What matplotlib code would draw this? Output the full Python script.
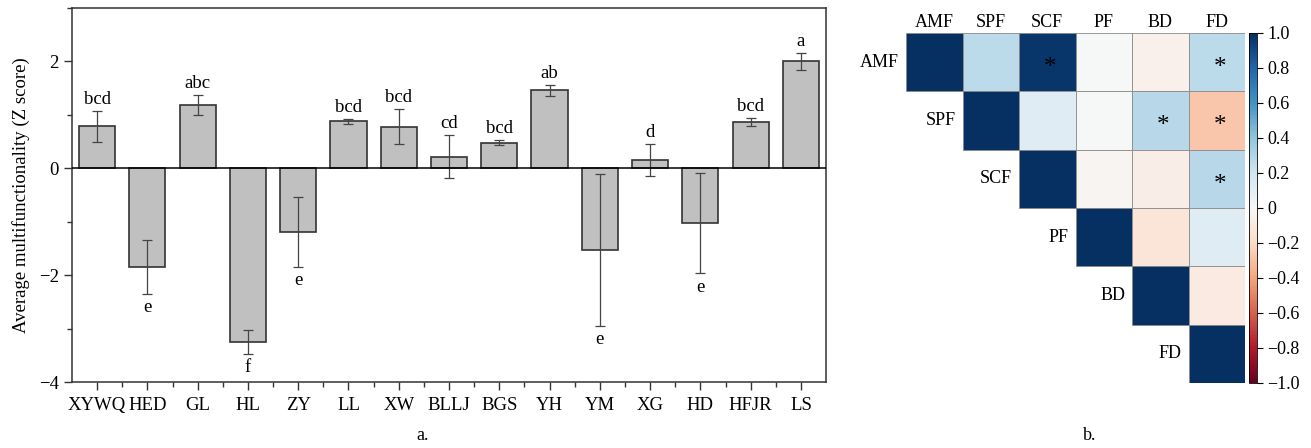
import numpy as np
import matplotlib
matplotlib.use("Agg")
import matplotlib.pyplot as plt
from matplotlib.colors import Normalize
from matplotlib.cm import ScalarMappable
from matplotlib.patches import Rectangle
from matplotlib.ticker import MultipleLocator, FixedLocator

plt.rcParams['font.family'] = ['Liberation Serif', 'DejaVu Serif']
plt.rcParams['axes.unicode_minus'] = True

# panel a: average multifunctionality per site
sites = ['XYWQ', 'HED', 'GL', 'HL', 'ZY', 'LL', 'XW', 'BLLJ', 'BGS', 'YH',
         'YM', 'XG', 'HD', 'HFJR', 'LS']
means = [0.79, -1.85, 1.19, -3.25, -1.19, 0.88, 0.78, 0.22, 0.48, 1.46,
         -1.53, 0.16, -1.02, 0.87, 2.00]
errors = [0.29, 0.50, 0.19, 0.22, 0.65, 0.05, 0.33, 0.41, 0.05, 0.10,
          1.42, 0.30, 0.94, 0.08, 0.16]
letters = ['bcd', 'e', 'abc', 'f', 'e', 'bcd', 'bcd', 'cd', 'bcd', 'ab',
           'e', 'd', 'e', 'bcd', 'a']

# panel b: correlation matrix (upper triangle shown)
variables = ['AMF', 'SPF', 'SCF', 'PF', 'BD', 'FD']
corr = np.array([
    [1.00, 0.27, 0.97, 0.00, -0.05, 0.27],
    [0.27, 1.00, 0.12, 0.00, 0.28, -0.28],
    [0.97, 0.12, 1.00, -0.02, -0.07, 0.28],
    [0.00, 0.00, -0.02, 1.00, -0.13, 0.12],
    [-0.05, 0.28, -0.07, -0.13, 1.00, -0.09],
    [0.27, -0.28, 0.28, 0.12, -0.09, 1.00],
])
signif = [(0, 2), (0, 5), (1, 4), (1, 5), (2, 5)]

fig = plt.figure(figsize=(13.11, 4.48), dpi=100)

# ---- bar chart ----
ax = fig.add_axes([0.0549, 0.1473, 0.5752, 0.8348])
x = np.arange(len(sites))
ax.bar(x, means, width=0.72, color='#c0c0c0', edgecolor='#333333', linewidth=1.2, zorder=2)
ax.errorbar(x, means, yerr=errors, fmt='none', ecolor='#444444', elinewidth=0.9,
            capsize=3.5, capthick=0.9, zorder=3)
ax.axhline(0, color='black', linewidth=1.1, zorder=4)

# significance letters above / below the error bars
for xi, m, e, lab in zip(x, means, errors, letters):
    if m >= 0:
        ax.annotate(lab, (xi, m + e), xytext=(0, 2), textcoords='offset points',
                    ha='center', va='bottom', fontsize=13.5)
    else:
        ax.annotate(lab, (xi, m - e), xytext=(0, -4), textcoords='offset points',
                    ha='center', va='top', fontsize=13.5)

ax.set_xlim(-0.5, len(sites) - 0.5)
ax.set_ylim(-4, 3)
ax.set_xticks(x)
ax.set_xticklabels(sites, fontsize=13.5)
ax.xaxis.set_minor_locator(FixedLocator(x[:-1] + 0.5))
ax.yaxis.set_major_locator(FixedLocator([-4, -2, 0, 2]))
ax.yaxis.set_minor_locator(MultipleLocator(1))
ax.tick_params(axis='both', which='major', length=6, width=1, color='#333333', labelsize=13.5)
ax.tick_params(axis='x', which='major', pad=5)
ax.tick_params(axis='both', which='minor', length=3.5, width=1, color='#333333')
ax.set_ylabel('Average multifunctionality (Z score)', fontsize=13.5, labelpad=6)
for sp in ax.spines.values():
    sp.set_color('#333333')
    sp.set_linewidth(1.1)

# ---- heatmap (upper triangle) ----
hax = fig.add_axes([0.6911, 0.1451, 0.2586, 0.7813])
cmap = plt.get_cmap('RdBu')
norm = Normalize(vmin=-1, vmax=1)
n = len(variables)
for i in range(n):
    for j in range(i, n):
        hax.add_patch(Rectangle((j, i), 1, 1, facecolor=cmap(norm(corr[i, j])),
                                edgecolor='#8a8a8a', linewidth=0.6))
hax.set_xlim(0, n)
hax.set_ylim(n, 0)
hax.axis('off')

for j, name in enumerate(variables):
    hax.text(j + 0.5, -0.1, name, ha='center', va='baseline', fontsize=13)
    hax.text(j - 0.12, j + 0.5, name, ha='right', va='center', fontsize=13)
for (i, j) in signif:
    hax.text(j + 0.55, i + 0.6, '*', ha='center', va='center', fontsize=18)

cax = fig.add_axes([0.9527, 0.1451, 0.0061, 0.7813])
cb = fig.colorbar(ScalarMappable(norm=norm, cmap=cmap), cax=cax)
cb.set_ticks(np.round(np.arange(-1, 1.01, 0.2), 1))
cb.set_ticklabels(['\u22121.0', '\u22120.8', '\u22120.6', '\u22120.4', '\u22120.2', '0',
                   '0.2', '0.4', '0.6', '0.8', '1.0'])
cb.ax.tick_params(labelsize=13, length=4, width=0.8)
cb.outline.set_linewidth(0.6)

fig.text(0.322, 0.029, 'a.', ha='center', va='center', fontsize=13)
fig.text(0.831, 0.029, 'b.', ha='center', va='center', fontsize=13)

fig.savefig('out.png', dpi=100)
